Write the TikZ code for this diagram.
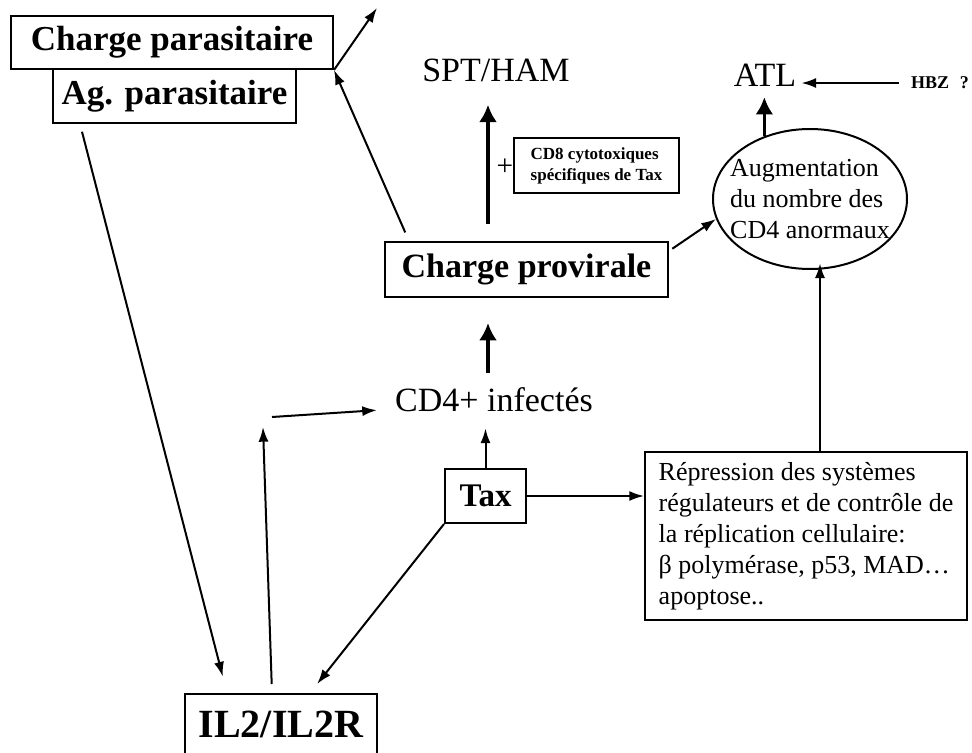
\documentclass[tikz,border=0pt]{standalone}
\usepackage{fontspec}
\setmainfont{Liberation Serif}
\usetikzlibrary{shapes.geometric, arrows.meta, positioning, calc}
\tikzset{
  boxnode/.style={rectangle,draw=black,line width=1.5pt,inner sep=0pt,align=center},
  textnode/.style={inner sep=0pt,font=\fontsize{25.5}{30}\selectfont},
  ovalnode/.style={ellipse,draw=black,line width=1.5pt,inner sep=0pt,
    minimum width=145.5pt,minimum height=105pt},
  arrow/.style={-{Latex[length=11pt,width=7.5pt]},line width=1.5pt},
  thickarrow/.style={-{Latex[length=13pt,width=13.5pt]},line width=2.7pt}
}

\begin{document}
\begin{tikzpicture}[x=0.75pt,y=-0.75pt]
  \useasboundingbox (0,0) rectangle (972,753);

  \node[boxnode,minimum width=241.5pt,minimum height=39.75pt,
    font=\bfseries\fontsize{26.25}{30}\selectfont] (chargepara) at (172,42.5) {Charge parasitaire};
  \node[boxnode,minimum width=182.25pt,minimum height=40.5pt,
    font=\bfseries\fontsize{26.25}{30}\selectfont] (agpara) at (174.5,96) {Ag. parasitaire};
  \node[textnode] (spt) at (496,70) {SPT/HAM};
  \node[textnode] (atl) at (765,75) {ATL};
  \node[inner sep=0pt,font=\bfseries\fontsize{13.5}{16}\selectfont] (hbz) at (940,83) {HBZ\hspace{8pt}?};
  \node[boxnode,minimum width=123.75pt,minimum height=41.25pt,align=left,
    font=\bfseries\fontsize{12.75}{15.75}\selectfont] (cd8) at (596.5,165.5)
    {CD8 cytotoxiques\\spécifiques de Tax};
  \node[inner sep=0pt,font=\fontsize{22}{24}\selectfont] (plus) at (505,167) {+};
  \node[boxnode,minimum width=212.25pt,minimum height=41.25pt,
    font=\bfseries\fontsize{25.5}{30}\selectfont] (provir) at (526.5,269.5) {Charge provirale};
  \node[ovalnode] (ell) at (810,199) {};
  \node[inner sep=0pt,align=left,font=\fontsize{19.5}{23.25}\selectfont] (elltext) at (ell.center)
    {Augmentation\\du nombre des\\CD4 anormaux};
  \node[textnode] (cd4inf) at (494,400) {CD4+ infectés};
  \node[boxnode,minimum width=60.75pt,minimum height=40.5pt,
    font=\bfseries\fontsize{24.75}{30}\selectfont] (tax) at (485.5,496) {Tax};
  \node[boxnode,minimum width=241.5pt,minimum height=126pt,align=left,
    font=\fontsize{19.5}{23.25}\selectfont] (repr) at (806,536)
    {Répression des systèmes\\régulateurs et de contrôle de\\la réplication cellulaire:\\β polymérase, p53, MAD…\\apoptose..};
  \node[boxnode,minimum width=144pt,minimum height=49.5pt,
    font=\bfseries\fontsize{30}{34}\selectfont] (il2) at (281,727) {\raisebox{3.75pt}{IL2/IL2R}};

  \coordinate (escape) at (377,8);
  \coordinate (il2top) at (263,427);
  \coordinate (relay) at (272,417);

  \draw[arrow] (chargepara.south east) -- (escape);
  \draw[arrow,shorten <=7pt] ([xshift=18.75pt]provir.north west) -- (chargepara.south east);
  \draw[arrow,shorten <=6pt,shorten >=12.75pt] ([xshift=21pt]agpara.south west) -- ([xshift=32.25pt]il2.north west);
  \draw[arrow,shorten <=6.75pt] ([xshift=-6.75pt]il2.north) -- (il2top);
  \draw[arrow,shorten >=13.5pt] (relay) -- ([yshift=-6.75pt]cd4inf.west);
  \draw[arrow,shorten >=12pt] (tax.north) -- (tax.north |- cd4inf.south);
  \draw[arrow] (tax.east) -- (repr.west |- tax.east);
  \draw[arrow,shorten >=8.6pt] (tax.south west) -- ([xshift=21.75pt]il2.north);
  \draw[arrow,shorten >=-5pt] ([xshift=10.5pt]repr.north) -- ([xshift=10.5pt]repr.north |- ell.south);
  \draw[arrow,shorten <=3pt] ([yshift=-7.5pt]provir.north east) -- (ell.192);
  \draw[arrow,shorten <=9pt,shorten >=3.75pt] (hbz.west) -- (hbz.west -| atl.east);
  \draw[thickarrow,shorten <=11.25pt,shorten >=18.75pt] ([xshift=-4.5pt]cd4inf.north) -- ([xshift=-28.875pt]provir.south);
  \draw[thickarrow,shorten <=12.75pt,shorten >=17.25pt] ([xshift=-28.875pt]provir.north) -- ([xshift=-6pt]spt.south);
  \draw[thickarrow,shorten >=8pt] (ell.126) -- (ell.126 |- atl.south);
\end{tikzpicture}
\end{document}
